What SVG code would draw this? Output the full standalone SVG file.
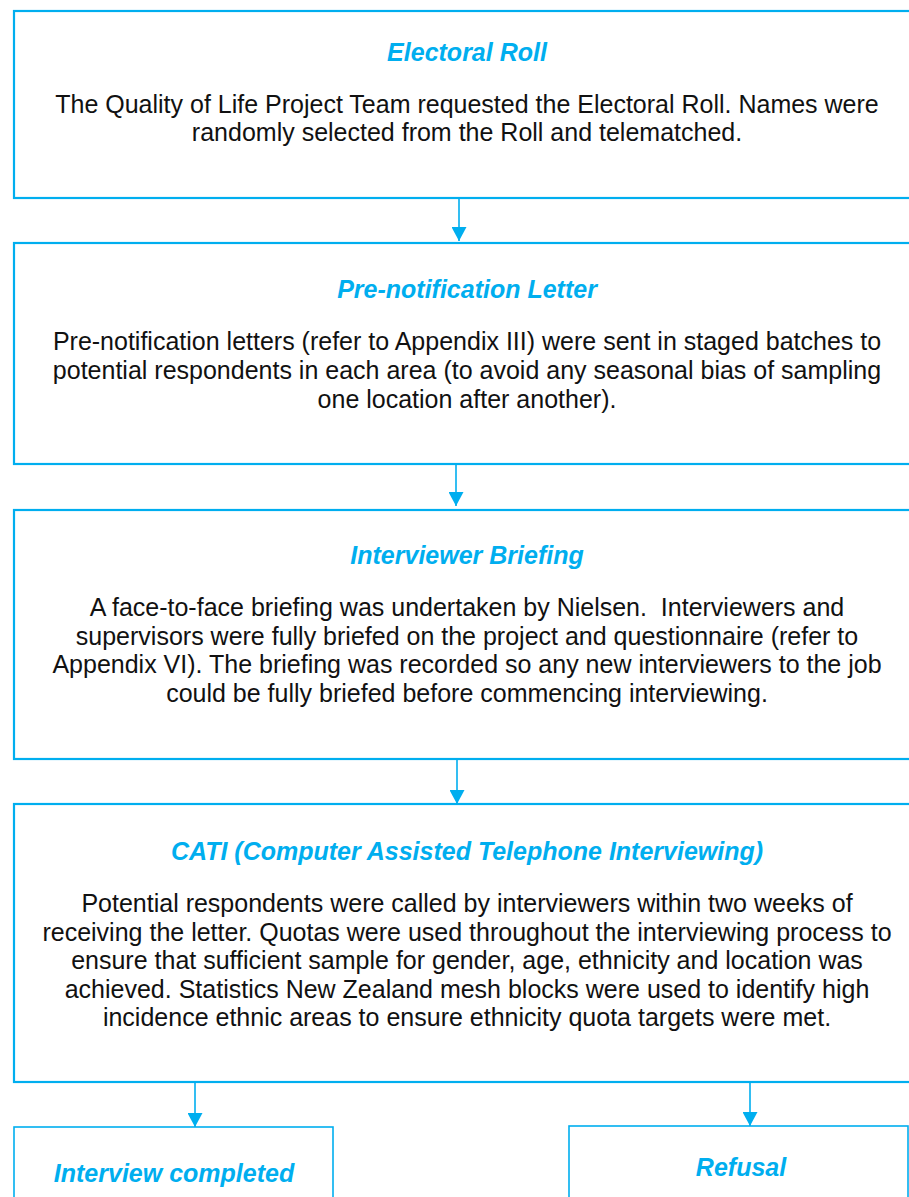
<svg xmlns="http://www.w3.org/2000/svg" width="909" height="1197" viewBox="0 0 909 1197">
<style>
.box{fill:#fff;stroke:#00AEEF;stroke-width:2.2}
.sbox{fill:#fff;stroke:#00AEEF;stroke-width:1.6}
.title{font-family:"Liberation Sans",Arial,sans-serif;font-size:25px;font-weight:bold;font-style:italic;fill:#00AEEF;text-anchor:middle}
.body{font-family:"Liberation Sans",Arial,sans-serif;font-size:25px;fill:#111;text-anchor:middle;white-space:pre}
.conn{stroke:#00AEEF;stroke-width:1.6;fill:none}
</style>
<defs>
<marker id="ah" markerUnits="userSpaceOnUse" markerWidth="16" markerHeight="15" refX="14" refY="7.5" orient="auto">
<path d="M0,0 L14,7.5 L0,15 Z" fill="#00AEEF"/>
</marker>
</defs>
<rect width="909" height="1197" fill="#fff"/>
<g id="connectors">
<line class="conn" x1="459" y1="197" x2="459" y2="241" marker-end="url(#ah)"/>
<line class="conn" x1="456" y1="463" x2="456" y2="506" marker-end="url(#ah)"/>
<line class="conn" x1="457" y1="758" x2="457" y2="804" marker-end="url(#ah)"/>
<line class="conn" x1="195" y1="1081" x2="195" y2="1127" marker-end="url(#ah)"/>
<line class="conn" x1="750" y1="1081" x2="750" y2="1126" marker-end="url(#ah)"/>
</g>
<g id="electoral-roll">
<rect class="box" x="14" y="11" width="910" height="187"/>
<text class="title" x="467" y="61">Electoral Roll</text>
<text class="body" x="467" y="113">The Quality of Life Project Team requested the Electoral Roll. Names were</text>
<text class="body" x="467" y="141">randomly selected from the Roll and telematched.</text>
</g>
<g id="pre-notification">
<rect class="box" x="14" y="243" width="910" height="221"/>
<text class="title" x="467" y="298">Pre-notification Letter</text>
<text class="body" x="467" y="350">Pre-notification letters (refer to Appendix III) were sent in staged batches to</text>
<text class="body" x="467" y="379">potential respondents in each area (to avoid any seasonal bias of sampling</text>
<text class="body" x="467" y="408">one location after another).</text>
</g>
<g id="interviewer-briefing">
<rect class="box" x="14" y="510" width="910" height="249"/>
<text class="title" x="467" y="564">Interviewer Briefing</text>
<text class="body" x="467" y="616">A face-to-face briefing was undertaken by Nielsen.  Interviewers and</text>
<text class="body" x="467" y="645">supervisors were fully briefed on the project and questionnaire (refer to</text>
<text class="body" x="467" y="673">Appendix VI). The briefing was recorded so any new interviewers to the job</text>
<text class="body" x="467" y="702">could be fully briefed before commencing interviewing.</text>
</g>
<g id="cati">
<rect class="box" x="14" y="804" width="910" height="278"/>
<text class="title" x="467" y="860">CATI (Computer Assisted Telephone Interviewing)</text>
<text class="body" x="467" y="912">Potential respondents were called by interviewers within two weeks of</text>
<text class="body" x="467" y="941">receiving the letter. Quotas were used throughout the interviewing process to</text>
<text class="body" x="467" y="969">ensure that sufficient sample for gender, age, ethnicity and location was</text>
<text class="body" x="467" y="998">achieved. Statistics New Zealand mesh blocks were used to identify high</text>
<text class="body" x="467" y="1026">incidence ethnic areas to ensure ethnicity quota targets were met.</text>
</g>
<g id="interview-completed">
<rect class="sbox" x="14" y="1127" width="319" height="90"/>
<text class="title" x="174" y="1182">Interview completed</text>
</g>
<g id="refusal">
<rect class="sbox" x="569" y="1126" width="339" height="90"/>
<text class="title" x="741" y="1176">Refusal</text>
</g>
</svg>
